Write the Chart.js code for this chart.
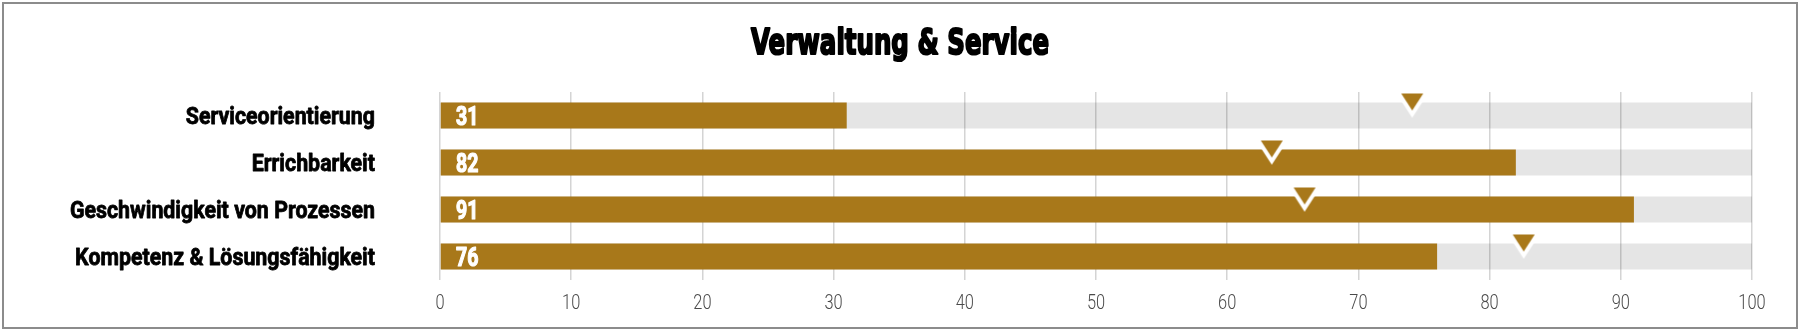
<!DOCTYPE html>
<html>
<head>
<meta charset="utf-8">
<script src="https://cdn.jsdelivr.net/npm/chart.js@4"></script>
<style>
  html, body { margin: 0; padding: 0; background: #fff; }
  #wrap { position: relative; width: 1800px; height: 330px; }
  #frame {
    position: absolute; left: 2px; top: 2px; width: 1796px; height: 327px;
    box-sizing: border-box; border: 2px solid #8c8c8c; pointer-events: none;
  }
  canvas { position: absolute; left: 0; top: 0; }
</style>
</head>
<body>
<div id="wrap">
  <canvas id="chart" width="1800" height="330"></canvas>
  <div id="frame"></div>
</div>
<script>
const title = 'Verwaltung & Service';
const categories = ['Serviceorientierung', 'Errichbarkeit', 'Geschwindigkeit von Prozessen', 'Kompetenz & Lösungsfähigkeit'];
const scores = [31, 82, 91, 76];
const averages = [74.1, 63.4, 65.9, 82.6];
const maxScores = [100, 100, 100, 100];

const BROWN = '#a8781a';

// down-pointing marker with white outline, drawn above the point centre
function makeMarker() {
  const c = document.createElement('canvas');
  c.width = 40; c.height = 64;
  const g = c.getContext('2d');
  const cx = 20, cy = 32;
  g.beginPath();
  g.moveTo(cx - 11, cy - 22);
  g.lineTo(cx + 11, cy - 22);
  g.lineTo(cx, cy - 5);
  g.closePath();
  g.lineJoin = 'miter';
  g.miterLimit = 10;
  g.lineWidth = 8;
  g.strokeStyle = '#fff';
  g.stroke();
  g.fillStyle = BROWN;
  g.fill();
  return c;
}

// condensed text helper (stroke thickens the glyphs)
function condensed(ctx, text, x, y, font, color, align, sx, stroke) {
  ctx.save();
  ctx.font = font;
  ctx.fillStyle = color;
  ctx.strokeStyle = color;
  ctx.textBaseline = 'alphabetic';
  const w = ctx.measureText(text).width * sx;
  let left = x;
  if (align === 'right') left = x - w;
  else if (align === 'center') left = x - w / 2;
  ctx.translate(left, y);
  ctx.scale(sx, 1);
  ctx.textAlign = 'left';
  ctx.fillText(text, 0, 0);
  if (stroke) {
    ctx.lineWidth = stroke;
    ctx.lineJoin = 'round';
    ctx.strokeText(text, 0, 0);
  }
  ctx.restore();
}

const textPlugin = {
  id: 'texts',
  afterDatasetsDraw(chart) {
    const ctx = chart.ctx;
    const xs = chart.scales.x, ys = chart.scales.y;
    // values inside bars
    scores.forEach((v, i) => {
      const y = ys.getPixelForValue(i);
      condensed(ctx, String(v), xs.getPixelForValue(0) + 16, y + 9.5, 'bold 25px Roboto', '#fff', 'left', 0.78, 1.2);
    });
  },
  afterDraw(chart) {
    const ctx = chart.ctx;
    const xs = chart.scales.x, ys = chart.scales.y;
    // title
    condensed(ctx, title, 900, 54, 'bold 36px "DejaVu Sans"', '#000', 'center', 0.68, 2.2);
    // category labels
    categories.forEach((c, i) => {
      const y = ys.getPixelForValue(i);
      condensed(ctx, c, 375, y + 8.5, 'bold 24px Roboto', '#000', 'right', 0.89, 0.8);
    });
    // x tick labels
    xs.ticks.forEach(t => {
      const x = xs.getPixelForValue(t.value);
      condensed(ctx, String(t.value), x, 309, '300 20px Roboto', '#4a4a4a', 'center', 0.82);
    });
  }
};

new Chart(document.getElementById('chart'), {
  type: 'bar',
  data: {
    labels: categories,
    datasets: [
      {
        type: 'line',
        label: 'Durchschnitt',
        data: averages,
        showLine: false,
        pointStyle: makeMarker(),
        pointRadius: 10,
        order: 0
      },
      {
        label: 'Wert',
        data: scores,
        backgroundColor: BROWN,
        barPercentage: 0.55,
        categoryPercentage: 1,
        grouped: false,
        order: 1
      },
      {
        label: 'Max',
        data: maxScores,
        backgroundColor: 'rgba(0,0,0,0.1)',
        barPercentage: 0.55,
        categoryPercentage: 1,
        grouped: false,
        order: 2
      }
    ]
  },
  options: {
    indexAxis: 'y',
    responsive: false,
    animation: false,
    layout: { padding: { top: 92, right: 48, left: 0, bottom: 0 } },
    plugins: {
      legend: { display: false },
      tooltip: { enabled: false },
      title: { display: false }
    },
    scales: {
      x: {
        min: 0, max: 100,
        ticks: { stepSize: 10, display: false },
        grid: { color: '#d4d4d4', lineWidth: 1.5, drawTicks: false },
        border: { display: false },
        afterFit(scale) { scale.height = 50; }
      },
      y: {
        ticks: { display: false },
        grid: { display: false },
        border: { display: false },
        afterFit(scale) { scale.width = 440; }
      }
    }
  },
  plugins: [textPlugin]
});
</script>
</body>
</html>
